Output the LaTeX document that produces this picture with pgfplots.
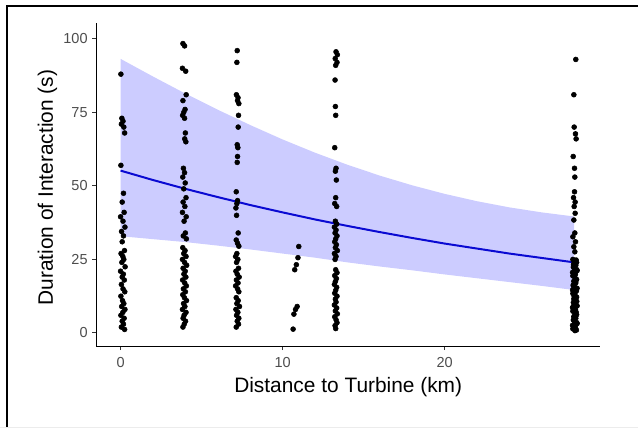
\documentclass[border=0pt]{standalone}
\usepackage{fontspec}
\setmainfont{Liberation Sans}
\usepackage{pgfplots}
\pgfplotsset{compat=1.18}
\usepackage{pgfplotstable}

\definecolor{ticktext}{RGB}{77,77,77}
\definecolor{fitblue}{RGB}{10,10,210}

% observed interactions: distance (km), duration (s)
\pgfplotstableread{
x y
0.02 88
0.08 73
0.15 72
0.05 71
0.20 70
0.25 68
0.02 57
0.18 47.5
0.10 44.5
0.22 41
0.00 39.5
0.15 38
0.27 36
0.06 34.5
0.18 33
0.10 31
0.24 28
0.03 27
0.14 26
0.20 25
0.08 24
0.28 22.5
0.00 21
0.17 20
0.10 19
0.23 18
0.05 16.5
0.15 15
0.26 14
0.02 12.5
0.12 11
0.20 10
0.07 9
0.27 8
0.14 7
0.02 6
0.22 5
0.10 4
0.18 3
0.05 2
0.25 1.2
3.85 98.4
3.95 97.6
3.82 90
4.02 89
4.05 81
3.85 79
3.98 76
3.90 75
3.83 74
3.95 73
4.00 68
3.96 66
4.03 65
3.88 56
3.95 54.5
3.84 53
3.99 51
3.90 49
4.04 46
3.86 44.5
3.97 43
3.82 41
4.05 39.5
3.92 38
4.00 34
3.87 33
4.06 32
3.84 29
3.98 28
3.90 27
4.04 26
3.82 25
3.95 24
4.08 23
3.86 22
3.99 21
3.91 20
4.03 19
3.83 18
3.96 17
4.06 16
3.88 15
4.00 14
3.84 13
3.94 12
4.07 11
3.89 10
3.97 9
3.82 8
4.04 7
3.92 6
3.86 5
4.01 4
3.93 3
3.85 2
7.20 96
7.18 92
7.15 81
7.25 80
7.22 79
7.30 78
7.28 74
7.26 70
7.20 64
7.24 63
7.22 60
7.20 58
7.14 48
7.22 45
7.18 44
7.12 42.5
7.16 40
7.26 34
7.14 31.6
7.22 30.5
7.30 29.5
7.18 27
7.10 26
7.24 25
7.16 24
7.28 22
7.12 21
7.20 20
7.32 19
7.15 18
7.25 17
7.10 16
7.22 15
7.30 14
7.14 12
7.26 11
7.18 10
7.34 9
7.12 8
7.24 7
7.16 6
7.30 5
7.20 4
7.28 3
7.14 2
11.00 29.4
10.95 25.6
10.85 23.2
10.75 21.5
10.90 9
10.80 8
10.70 6.4
10.65 1.3
13.30 95.6
13.38 94.6
13.25 93.3
13.36 92
13.28 91
13.24 86
13.26 77
13.28 74
13.22 63
13.30 56
13.26 55
13.32 52
13.28 46
13.22 44
13.34 43
13.26 38
13.34 37
13.20 36
13.30 35
13.24 34
13.36 33
13.28 32
13.22 31
13.32 30
13.26 29
13.38 28
13.20 27
13.30 26
13.24 25
13.28 21.5
13.36 20.5
13.22 19.5
13.32 18.5
13.26 17.5
13.20 16.5
13.34 15.5
13.28 14.5
13.22 13.5
13.36 12.5
13.26 11.5
13.30 10.5
13.20 9.5
13.34 8.5
13.26 7.5
13.38 6.5
13.22 5.5
13.30 4.5
13.36 3.5
13.24 2.5
13.28 1.5
28.10 93
27.98 81
28.00 70
28.08 67.7
28.12 66
27.94 60
28.02 56
28.04 53
28.02 48
27.96 46
28.06 44.5
28.00 43
28.06 40.7
27.98 38.4
28.04 34
27.92 32.7
28.08 31
27.98 29.3
28.04 27.6
27.92 25.0
28.05 24.5
28.15 24.0
27.98 23.5
28.10 23.0
27.95 22.4
28.02 21.8
28.18 21.2
27.90 20.6
28.08 20.0
27.92 19.4
28.05 18.8
28.15 18.2
27.98 17.6
28.10 17.0
27.95 16.4
28.02 15.8
28.18 15.2
27.90 14.6
28.08 14.0
27.92 13.4
28.05 12.8
28.15 12.2
27.98 11.6
28.10 11.0
27.95 10.4
28.02 9.8
28.18 9.2
27.90 8.6
28.08 8.0
27.92 7.4
28.05 6.8
28.15 6.2
27.98 5.6
28.10 5.0
27.95 4.4
28.02 3.8
28.18 3.2
27.90 2.6
28.08 2.0
27.92 1.4
28.05 0.8
28.12 24.8
27.96 23.2
28.16 21.5
28.00 19.7
28.12 18.0
27.94 16.1
28.14 14.3
28.00 12.5
28.16 10.7
27.94 9.0
28.12 7.1
28.00 5.3
28.16 3.5
27.96 1.7
28.14 1.0
}\points

\begin{document}
\begin{tikzpicture}[x=0.75pt,y=0.75pt]
  \path (0,0) rectangle (639,429);
  \draw[line width=1.5pt] (6.7,0) -- (6.7,423) -- (639,423);
  \draw[gray!15, line width=0.75pt] (0,0.4) -- (639,0.4);
  \begin{axis}[
    at={(72pt,61.5pt)}, anchor=south west,
    scale only axis,
    width=378.75pt, height=243.2pt,
    xmin=-1.5, xmax=29.6,
    ymin=-4.5, ymax=105.5,
    axis x line*=bottom, axis y line*=left,
    axis line style={-, line width=0.8pt},
    tick align=outside,
    major tick length=3pt,
    tick style={black!80, line width=0.8pt},
    xtick={0,10,20},
    ytick={0,25,50,75,100},
    /pgf/number format/assume math mode=true,
    ticklabel style={font=\fontsize{10.9}{12}\selectfont, text=ticktext},
    xticklabel style={yshift=-1.5pt},
    xlabel={Distance to Turbine (km)},
    ylabel={Duration of Interaction (s)},
    label style={font=\fontsize{15.7}{18}\selectfont},
    xlabel style={at={(axis description cs:0.5,-0.125)}, anchor=center},
    ylabel style={at={(axis description cs:-0.097,0.49)}, anchor=center, rotate=0},
  ]
    \addplot[only marks, mark=*, mark size=1.85pt, black] table[x=x, y=y] {\points};
    % 95% confidence band
    \addplot[draw=none, fill=blue, fill opacity=0.2] coordinates {
      (0,93.2) (2,87.2) (4,81.4) (6,75.9) (8,70.7) (10,65.8) (12,61.3) (14,57.2)
      (16,53.5) (18,50.2) (20,47.3) (22,44.8) (24,42.7) (26,41.0) (28,39.6)
      (28,14.6) (26,16.0) (24,17.3) (22,18.6) (20,19.9) (18,21.3) (16,22.6)
      (14,24.0) (12,25.6) (10,27.0) (8,28.4) (6,29.7) (4,30.9) (2,31.9) (0,32.9)
    };
    % fitted curve
    \addplot[fitblue, line width=1.5pt] coordinates {
      (0,55.2) (2,52.0) (4,49.0) (6,46.2) (8,43.5) (10,41.0) (12,38.6) (14,36.4)
      (16,34.3) (18,32.3) (20,30.4) (22,28.7) (24,27.0) (26,25.5) (28,24.0)
    };
  \end{axis}
\end{tikzpicture}
\end{document}
